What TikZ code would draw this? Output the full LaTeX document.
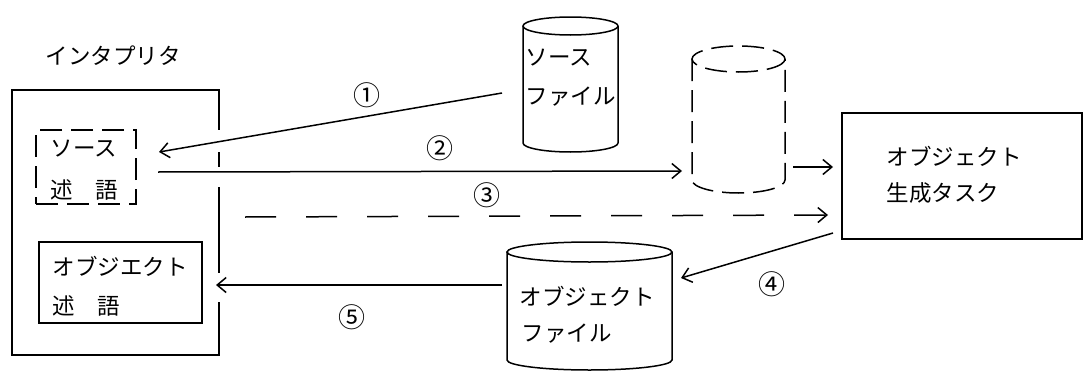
\documentclass[tikz,border=0pt]{standalone}
\usepackage{fontspec}
\newfontfamily\jp{Noto Sans CJK JP}
\usetikzlibrary{arrows.meta}
\begin{document}
\begin{tikzpicture}[x=1pt,y=-1pt,
  line width=1.5pt,
  box/.style={draw, rectangle, inner sep=0pt, outer sep=0pt},
  body/.style={rectangle, inner sep=0pt, outer sep=0pt},
  txt/.style={font=\jp\fontsize{22.5}{22.5}\selectfont, inner sep=0pt, anchor=west},
  num/.style={font=\jp\fontsize{27}{27}\selectfont, inner sep=0pt},
  arr/.style={-{Straight Barb[length=9pt,width=15pt]}},
  dsh/.style={dash pattern=on 22pt off 9pt}
]
\useasboundingbox (0,0) rectangle (1084,372);

% interpreter
\node[txt] (tinterp) at (45,56) {インタプリタ};
\node[box, minimum width=207pt, minimum height=265pt] (interp) at (115.5,222.5) {};
\draw[white, line width=4pt] ([shift={(0,40)}]interp.north east) -- ++(0,22)
  ([shift={(0,77)}]interp.north east) -- ++(0,20)
  ([shift={(0,183)}]interp.north east) -- ++(0,29);
\node[box, dsh, minimum width=100pt, minimum height=74pt] (spred) at (86,167) {};
\node[txt] (spred1) at (50,149) {ソース};
\node[txt] (spred2) at (50,190) {述　語};
\node[box, minimum width=163pt, minimum height=81pt] (opred) at (120.5,282.5) {};
\node[txt] (opred1) at (52,266) {オブジエクト};
\node[txt] (opred2) at (52,306) {述　語};

% source file cylinder
\node[body, minimum width=95pt, minimum height=117pt] (srcbody) at (570.5,84.5) {};
\draw (srcbody.north) ellipse[x radius=47.5, y radius=9];
\draw (srcbody.north west) -- (srcbody.south west)
  arc[start angle=180, end angle=0, x radius=47.5, y radius=9]
  -- (srcbody.north east);
\node[txt] (src1) at (525,58) {ソース};
\node[txt] (src2) at (525,97) {ファイル};

% temporary (dashed) cylinder
\node[body, minimum width=93pt, minimum height=121pt] (tmpbody) at (738.5,119.5) {};
\draw[dsh] (tmpbody.north) ellipse[x radius=46.5, y radius=13];
\draw[dsh] (tmpbody.north west) -- (tmpbody.south west)
  arc[start angle=180, end angle=0, x radius=46.5, y radius=13]
  -- (tmpbody.north east);

% object file cylinder
\node[body, minimum width=165pt, minimum height=108pt] (objbody) at (589.5,306) {};
\draw (objbody.north) ellipse[x radius=82.5, y radius=10];
\draw (objbody.north west) -- (objbody.south west)
  arc[start angle=180, end angle=0, x radius=82.5, y radius=10]
  -- (objbody.north east);
\node[txt] (obj1) at (519,296) {オブジェクト};
\node[txt] (obj2) at (521,334) {ファイル};

% object generation task
\node[box, minimum width=240pt, minimum height=126pt] (task) at (962,176) {};
\node[txt] (task1) at (886,156) {オブジェクト};
\node[txt] (task2) at (886,193) {生成タスク};

% connectors
\draw[arr] ([shift={(-21,8.5)}]srcbody.west) -- ([shift={(23,-15)}]spred.east);
\draw[arr] ([shift={(22,5)}]spred.east) -- ([shift={(-10,51.5)}]tmpbody.west);
\draw[arr] ([shift={(8,47.5)}]tmpbody.east) -- ([shift={(-9,-9)}]task.west);
\draw[arr, dash pattern=on 31pt off 30pt] ([shift={(26,-5.5)}]interp.east) -- ([shift={(-14,39)}]task.west);
\draw[arr] ([shift={(-9,-6)}]task.south west) -- ([shift={(9,-28)}]objbody.east);
\draw[arr] ([shift={(-5,-21)}]objbody.west) -- ([shift={(-3,62.5)}]interp.east);

% labels
\node[num] (n1) at (367,95) {①};
\node[num] (n2) at (440,148) {②};
\node[num] (n3) at (487,195) {③};
\node[num] (n4) at (772,284) {④};
\node[num] (n5) at (352,317) {⑤};
\end{tikzpicture}
\end{document}
